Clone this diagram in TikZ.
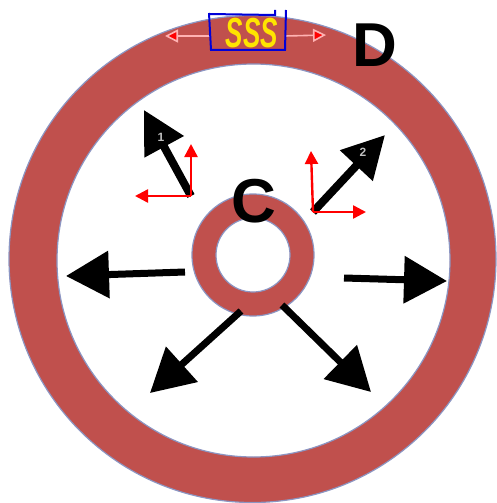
\documentclass[tikz,border=0pt]{standalone}
\usepackage{fontspec}
\usepackage{graphicx}
\setmainfont{Liberation Sans}
\usetikzlibrary{arrows.meta}
\definecolor{ringred}{RGB}{192,80,77}
\definecolor{ringedge}{RGB}{140,150,195}
\definecolor{ssscol}{RGB}{255,228,0}
\tikzset{
  x=1pt,y=-1pt,
  ring/.style={fill=ringred,draw=ringedge,line width=1.2pt,even odd rule},
  bigarrow/.style={draw=black,line width=7pt,-{Triangle[length=43pt,width=46pt,fill=black]}},
  midarrow/.style={draw=black,line width=8pt,-{Triangle[length=42pt,width=43pt,fill=black]}},
  redarrow/.style={draw=red,line width=2.4pt,-{Triangle[length=13pt,width=13pt,fill=red]}},
  palearrow/.style={draw=red!30,line width=1.6pt,-{Triangle[length=13pt,width=13pt,fill=red]}},
  box/.style={draw=blue!85!black,line width=2pt},
  biglabel/.style={font=\bfseries\fontsize{62}{62}\selectfont,inner sep=0pt},
  tiplabel/.style={font=\bfseries\fontsize{12}{12}\selectfont,text=white!75!black,inner sep=0pt}
}
\begin{document}
\begin{tikzpicture}
\useasboundingbox (0,0) rectangle (496,503);
\fill[white] (0,0) rectangle (496,503);
% rings
\path[ring] (252.5,259) circle[radius=243.5] (253.5,260.5) circle[radius=196.5];
\path[ring] (253,255) circle[radius=61] (253,255) circle[radius=37];
% named anchors
\coordinate (lS) at (185,272); \coordinate (lE) at (66,276);
\coordinate (rS) at (344,278); \coordinate (rE) at (447,281);
\coordinate (dlS) at (241,311); \coordinate (dlE) at (150,393);
\coordinate (drS) at (282,305); \coordinate (drE) at (371,392);
\coordinate (a1S) at (191,196); \coordinate (a1E) at (144,110);
\coordinate (a2S) at (313,212); \coordinate (a2E) at (385,135);
\coordinate (r1x) at (135,196); \coordinate (r1y) at (191,144);
\coordinate (r2x) at (366,212); \coordinate (r2y) at (311,151);
\coordinate (boxL) at (211,36); \coordinate (boxR) at (285,36);
\coordinate (tipL) at (165,36); \coordinate (tipR) at (326,35);
% black arrows
\draw[bigarrow] (lS) -- (lE);
\draw[bigarrow] (rS) -- (rE);
\draw[bigarrow] (dlS) -- (dlE);
\draw[bigarrow] (drS) -- (drE);
\draw[midarrow] (a1S) -- (a1E);
\draw[midarrow] (a2S) -- (a2E);
\draw[redarrow] (a1S) -- (r1x);
\draw[redarrow] (a1S) -- (r1y);
\draw[redarrow] (a2S) -- (r2x);
\draw[redarrow] (a2S) -- (r2y);
\node[tiplabel] (n1) at (161,137) {1};
\node[tiplabel] (n2) at (363,152) {2};
% top box
\draw[palearrow] (boxL) -- (tipL);
\draw[palearrow] (boxR) -- (tipR);
\draw[box] (209,13) -- (211,50) -- (285,50) -- (286,10);
\draw[box] (209,14) -- (275,15) -- (275,10);
\node[font=\bfseries\itshape\fontsize{42}{42}\selectfont,text=ssscol,inner sep=0pt] (sss) at (252,33) {\scalebox{0.62}[1]{SSS}};
\node[biglabel] (c) at (254,201) {C};
\node[biglabel] (d) at (375,45) {D};
\end{tikzpicture}
\end{document}
